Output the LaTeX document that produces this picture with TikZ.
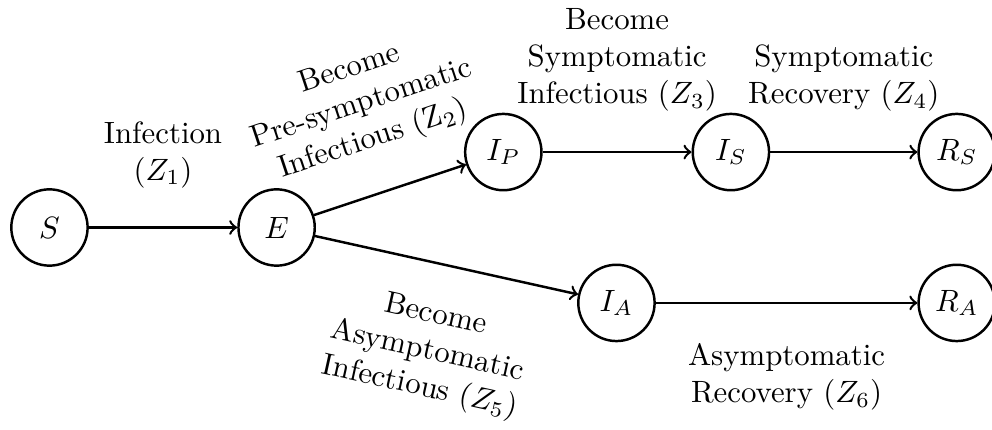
\documentclass[tikz,border=0pt]{standalone}
\usepackage{tikz}
\usetikzlibrary{positioning}
\tikzset{
  comp/.style={circle,draw,thick,minimum size=8.7mm,inner sep=1pt},
  flow/.style={->,thick},
  lab/.style={align=center,inner sep=3.33pt}
}

\begin{document}
\begin{tikzpicture}
  \useasboundingbox (-0.564,-2.298) rectangle (10.747,2.594);
  % compartments
  \node[comp] (S) at (0,0) {$S$};
  \node[comp] (E) at (2.59,0) {$E$};
  \node[comp] (IP) at (5.175,0.86) {$I_P$};
  \node[comp] (IS) at (7.77,0.86) {$I_S$};
  \node[comp] (RS) at (10.345,0.86) {$R_S$};
  \node[comp] (IA) at (6.465,-0.86) {$I_A$};
  \node[comp] (RA) at (10.345,-0.86) {$R_A$};
  % transitions
  \draw[flow] (S) -- node[lab,above=3.2mm] (z1) {Infection\\$(Z_1)$} (E);
  \draw[flow] (E) -- node[lab,sloped,above=3mm] (z2) {Become\\Pre-symptomatic\\Infectious (Z$_2$)} (IP);
  \draw[flow] (IP) -- node[lab,above=3.3mm] (z3) {Become\\Symptomatic\\Infectious $(Z_3)$} (IS);
  \draw[flow] (IS) -- node[lab,above=3.3mm] (z4) {Symptomatic\\Recovery $(Z_4)$} (RS);
  \draw[flow] (E) -- node[lab,sloped,below=3mm] (z5) {Become\\Asymptomatic\\Infectious $(Z_5)$} (IA);
  \draw[flow] (IA) -- node[lab,below=3.3mm] (z6) {Asymptomatic\\Recovery $(Z_6)$} (RA);
\end{tikzpicture}
\end{document}
